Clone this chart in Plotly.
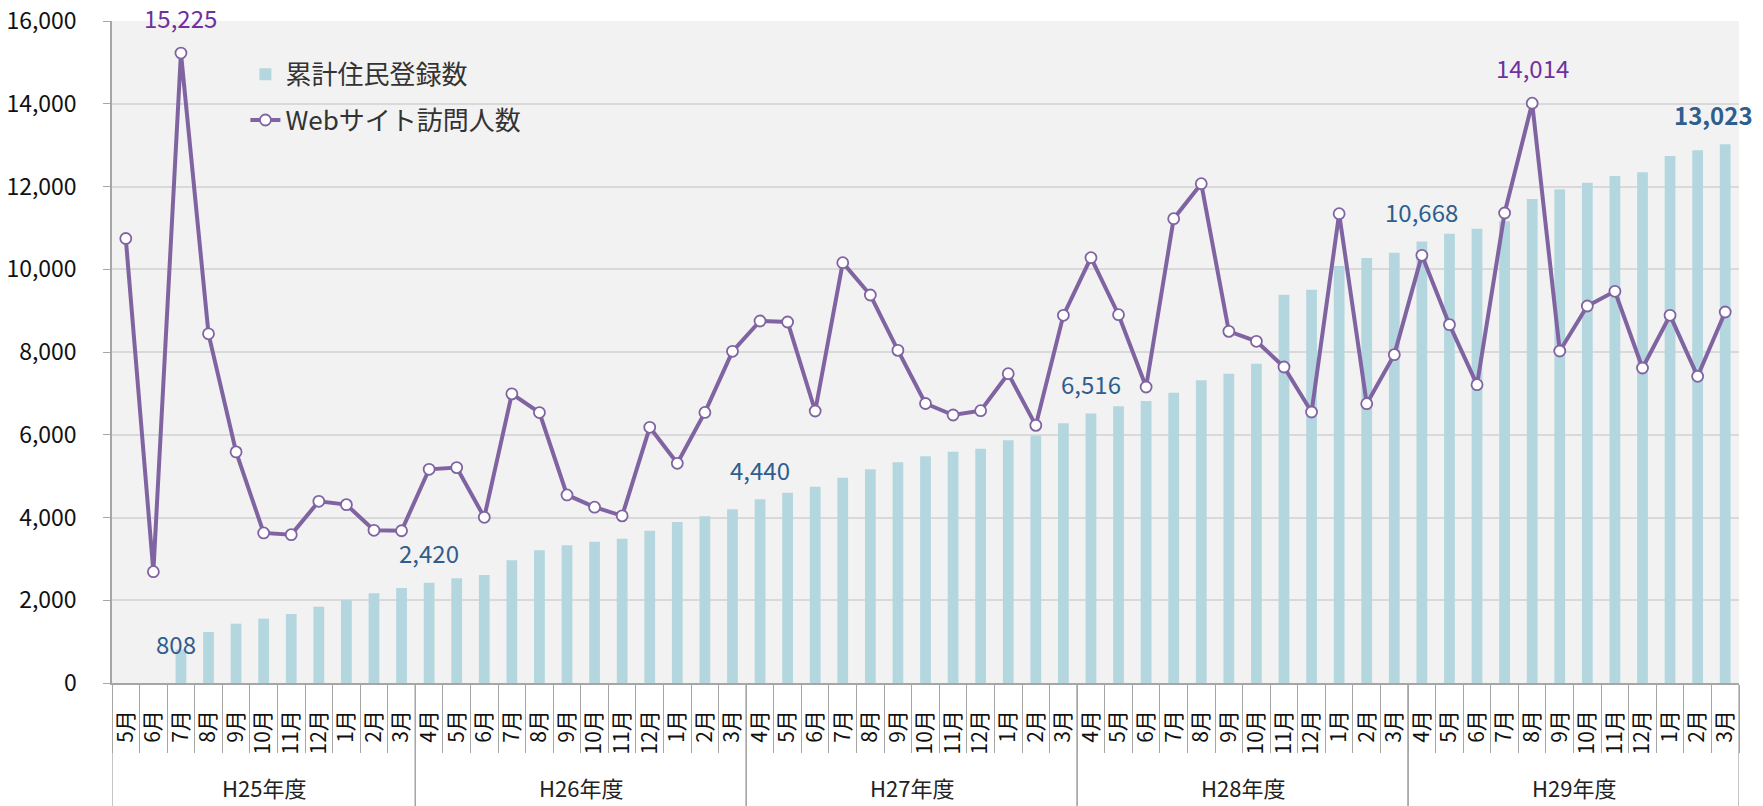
import plotly.graph_objects as go

# ---------------- data ----------------
fiscal_years = ["H25年度"] * 11 + ["H26年度"] * 12 + ["H27年度"] * 12 + ["H28年度"] * 12 + ["H29年度"] * 12
months = (["5月", "6月", "7月", "8月", "9月", "10月", "11月", "12月", "1月", "2月", "3月"]
          + ["4月", "5月", "6月", "7月", "8月", "9月", "10月", "11月", "12月", "1月", "2月", "3月"] * 4)

registrations = [None, None, 808, 1233, 1434, 1555, 1668, 1845, 2006, 2167, 2296,
                 2420, 2530, 2610, 2965, 3206, 3327, 3416, 3488, 3682, 3891, 4028, 4197,
                 4440, 4600, 4745, 4963, 5164, 5333, 5478, 5591, 5663, 5865, 5986, 6276,
                 6516, 6686, 6815, 7017, 7315, 7476, 7718, 9386, 9506, 10078, 10272, 10401,
                 10668, 10860, 10981, 11158, 11698, 11931, 12092, 12253, 12342, 12737, 12874, 13023]

visitors = [10743, 2691, 15225, 8439, 5586, 3627, 3586, 4392, 4311, 3690, 3680,
            5165, 5206, 4005, 6988, 6536, 4546, 4250, 4040, 6180, 5310, 6540, 8016,
            8749, 8725, 6574, 10159, 9378, 8040, 6755, 6477, 6582, 7476, 6227, 8886,
            10280, 8902, 7154, 11222, 12068, 8499, 8258, 7637, 6550, 11343, 6751, 7936,
            10336, 8661, 7210, 11359, 14014, 8024, 9112, 9466, 7613, 8886, 7412, 8967]

bar_label_points = [2, 11, 23, 35, 47, 58]
line_label_points = [2, 51]

y_ticks = [0, 2000, 4000, 6000, 8000, 10000, 12000, 14000, 16000]

# ---------------- styles ----------------
FONT = "Noto Sans CJK JP"
BAR_COLOR = "#B4D7DF"
LINE_COLOR = "#8064A2"
LINE_LABEL_COLOR = "#7030A0"
BAR_LABEL_COLOR = "#2F5E8E"
AXIS_COLOR = "#A6A6A6"

n = len(months)
xs = list(range(n))

fig = go.Figure()
fig.add_trace(go.Bar(
    x=xs, y=registrations, name="累計住民登録数",
    marker=dict(color=BAR_COLOR, line=dict(width=0)), width=0.39,
    legendgroup="a",
))
fig.add_trace(go.Scatter(
    x=xs, y=visitors, name="Webサイト訪問人数", mode="lines+markers",
    line=dict(color=LINE_COLOR, width=4),
    marker=dict(size=11, color="white", line=dict(color=LINE_COLOR, width=1.8)),
    legendgroup="b",
))

annotations = []
# data labels
for i in bar_label_points:
    bold = (i == bar_label_points[-1])
    annotations.append(dict(
        x=xs[i], y=registrations[i], xref="x", yref="y",
        text=f"{registrations[i]:,}", showarrow=False,
        font=dict(family=FONT, size=24, color=BAR_LABEL_COLOR, weight=("bold" if bold else "normal")),
        yshift=(6 if i == 2 else 30), xshift=(-5 if i == 2 else (-12 if bold else 0)),
    ))
for i in line_label_points:
    annotations.append(dict(
        x=xs[i], y=visitors[i], xref="x", yref="y",
        text=f"{visitors[i]:,}", showarrow=False,
        font=dict(family=FONT, size=24, color=LINE_LABEL_COLOR),
        yshift=36,
    ))

# fiscal-year group labels and dividers
groups = []
start = 0
for i in range(1, n + 1):
    if i == n or fiscal_years[i] != fiscal_years[start]:
        groups.append((fiscal_years[start], start, i - 1))
        start = i

shapes = []
for name, a, b in groups:
    annotations.append(dict(
        x=(xs[a] + xs[b]) / 2, y=-0.157, xref="x", yref="paper",
        text=name, showarrow=False, yanchor="middle",
        font=dict(family=FONT, size=22, color="#222222"),
    ))
    for bx in (xs[a] - 0.5, xs[b] + 0.5):
        shapes.append(dict(type="line", xref="x", yref="paper",
                           x0=bx, x1=bx, y0=0, y1=-0.2,
                           line=dict(color=AXIS_COLOR, width=1.3)))

fig.update_layout(
    width=1763, height=806,
    margin=dict(l=112, r=24, t=21, b=123, autoexpand=False),
    paper_bgcolor="white", plot_bgcolor="#F2F2F2",
    font=dict(family=FONT, color="#222222"),
    bargap=0.6,
    showlegend=True,
    legend=dict(
        x=0.082, y=0.955, xanchor="left", yanchor="top",
        bgcolor="rgba(0,0,0,0)", font=dict(family=FONT, size=26, color="#333333"),
        tracegroupgap=9, traceorder="grouped",
    ),
    annotations=annotations,
    shapes=shapes,
)

fig.update_xaxes(
    range=[-0.5, n - 0.5], automargin=False,
    tickmode="array", tickvals=xs, ticktext=months, tickangle=-90,
    ticks="", ticklabelstandoff=17,
    tickfont=dict(family=FONT, size=21, color="#111111"),
    showline=True, linecolor=AXIS_COLOR, linewidth=1.5,
    showgrid=False, zeroline=False,
    minor=dict(tickmode="linear", tick0=-0.5, dtick=1, ticks="outside",
               ticklen=68, tickcolor=AXIS_COLOR, tickwidth=1.3, showgrid=False),
)
fig.update_yaxes(
    range=[0, 16000], automargin=False,
    tickmode="array", tickvals=y_ticks, tickformat=",",
    gridcolor="#D9D9D9", gridwidth=1.5,
    showline=True, linecolor=AXIS_COLOR, linewidth=1.5,
    ticks="outside", ticklen=7, tickcolor=AXIS_COLOR,
    ticklabelstandoff=22,
    tickfont=dict(family=FONT, size=23, color="#111111"),
    zeroline=False,
)

fig.write_html("out.html", config={"displayModeBar": False},
               post_script="document.body.style.margin='0';document.body.style.overflow='hidden';")
